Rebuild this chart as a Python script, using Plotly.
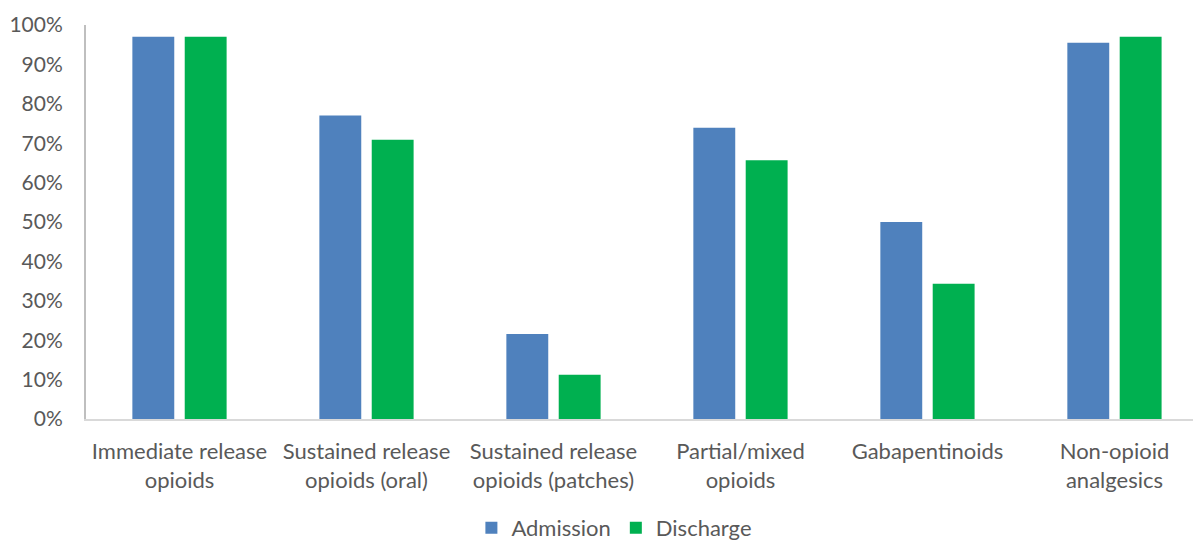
import plotly.graph_objects as go

categories = [
    "Immediate release<br>opioids",
    "Sustained release<br>opioids (oral)",
    "Sustained release<br>opioids (patches)",
    "Partial/mixed<br>opioids",
    "Gabapentinoids",
    "Non-opioid<br>analgesics",
]
admission = [0.97, 0.77, 0.216, 0.739, 0.50, 0.955]
discharge = [0.97, 0.709, 0.112, 0.657, 0.343, 0.97]
tick_vals = [0, 0.1, 0.2, 0.3, 0.4, 0.5, 0.6, 0.7, 0.8, 0.9, 1.0]
tick_text = ["0%", "10%", "20%", "30%", "40%", "50%", "60%", "70%", "80%", "90%", "100%"]

font_family = "Lato, Open Sans, sans-serif"

fig = go.Figure()
fig.add_trace(go.Bar(x=categories, y=admission, name="Admission",
                     marker=dict(color="#4F81BD", line=dict(width=0))))
fig.add_trace(go.Bar(x=categories, y=discharge, name="Discharge",
                     marker=dict(color="#00B050", line=dict(width=0))))

fig.update_layout(
    width=1193, height=541,
    margin=dict(l=86, r=0, t=25, b=122, autoexpand=False),
    plot_bgcolor="white", paper_bgcolor="white",
    barmode="group", bargap=0.44, bargroupgap=0.2,
    font=dict(family=font_family, size=22, color="#595959"),
    legend=dict(orientation="h", x=0.515, xanchor="center", y=0.024, yanchor="middle",
                yref="container", xref="container",
                font=dict(size=22, color="#595959"), itemwidth=30, traceorder="normal"),
    xaxis=dict(range=[-0.5, 5.42], showgrid=False, showline=True, linecolor="#D9D9D9",
               linewidth=2, ticks="", tickfont=dict(size=22, color="#595959"),
               automargin=False, ticklabelstandoff=12),
    yaxis=dict(range=[0, 1], tickvals=tick_vals, ticktext=tick_text, showgrid=False,
               showline=True, linecolor="#BFBFBF", linewidth=2, ticks="", zeroline=False,
               tickfont=dict(size=21, color="#595959"), ticklabelstandoff=17,
               automargin=False),
)

fig.write_html("out.html")
